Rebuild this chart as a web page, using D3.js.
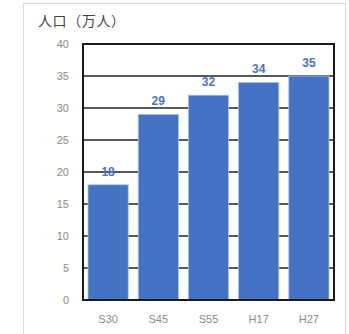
<!DOCTYPE html>
<html><head><meta charset="utf-8">
<script src="https://cdn.jsdelivr.net/npm/d3@7"></script>
<style>html,body{margin:0;padding:0;background:#fff;}svg{display:block;}</style>
</head><body>
<svg id="c" width="349" height="334"></svg>
<script>
const categories = ["S30","S45","S55","H17","H27"];
const values = [18,29,32,34,35];
const yTicks = [0,5,10,15,20,25,30,35,40];
const title = "人口（万人）";

const svg = d3.select("#c");
const L = 83, R = 334, T = 44, B = 300;

svg.append("rect").attr("x",23.5).attr("y",3.5).attr("width",322).attr("height",340)
  .attr("fill","none").attr("stroke","#dcdcdc").attr("stroke-width",1);

const x = d3.scaleBand().domain(categories).range([L,R]).paddingInner(0.2).paddingOuter(0.1);
const y = d3.scaleLinear().domain([0,40]).range([B,T]);

// gridlines
svg.append("g").selectAll("line").data(yTicks).join("line")
  .attr("x1",L).attr("x2",R).attr("y1",d=>y(d)).attr("y2",d=>y(d))
  .attr("stroke","#222").attr("stroke-width",1.5);

// bars
svg.append("g").selectAll("rect").data(values).join("rect")
  .attr("x",(d,i)=>x(categories[i])).attr("width",x.bandwidth())
  .attr("y",d=>y(d)).attr("height",d=>y(0)-y(d))
  .attr("fill","#4472C4").attr("stroke","#a9c0ea").attr("stroke-width",0.8);

// plot border
svg.append("rect").attr("x",L).attr("y",T).attr("width",R-L).attr("height",B-T)
  .attr("fill","none").attr("stroke","#1a1a1a").attr("stroke-width",2);

// value labels
svg.append("g").selectAll("text").data(values).join("text")
  .attr("x",(d,i)=>x(categories[i])+x.bandwidth()/2).attr("y",d=>y(d)-9)
  .attr("text-anchor","middle").attr("font-family","Liberation Sans, Arial, sans-serif")
  .attr("font-size",12).attr("font-weight","bold").attr("fill","#4a72c4").text(d=>d);

// y axis
const ya = svg.append("g").attr("transform",`translate(${L},0)`)
  .call(d3.axisLeft(y).tickValues(yTicks).tickSize(0).tickPadding(14));
ya.select(".domain").remove();
ya.selectAll("text").attr("font-family","Liberation Sans, Arial, sans-serif").attr("font-size",11).attr("fill","#8a8a8a");

// x axis
const xa = svg.append("g").attr("transform",`translate(0,${B})`)
  .call(d3.axisBottom(x).tickSize(0).tickPadding(15));
xa.select(".domain").remove();
xa.selectAll("text").attr("font-family","Liberation Sans, Arial, sans-serif").attr("font-size",11).attr("fill","#8a8a8a");

// title
svg.append("text").attr("x",38).attr("y",26).attr("font-family","Noto Sans CJK JP, sans-serif")
  .attr("font-size",14).attr("fill","#444").attr("textLength",87).attr("lengthAdjust","spacing").text(title);
</script>
</body></html>
